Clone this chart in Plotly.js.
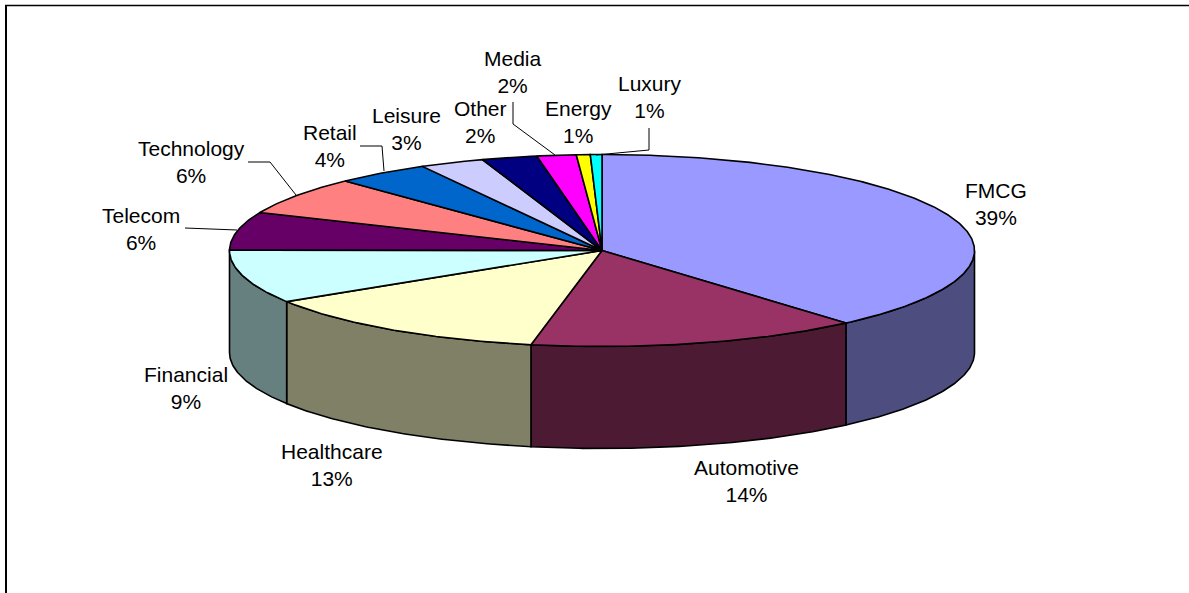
<!DOCTYPE html>
<html>
<head>
<meta charset="utf-8">
<script src="https://cdn.plot.ly/plotly-3.0.1.min.js"></script>
<style>html,body{margin:0;padding:0;background:#fff;overflow:hidden}#chart{width:1189px;height:593px}</style>
</head>
<body>
<div id="chart"></div>
<script>
// Data
const categories = ["FMCG","Automotive","Healthcare","Financial","Telecom","Technology","Retail","Leisure","Other","Media","Energy","Luxury"];
const shares = [38.6,14.4,13,9,6.4,6.4,4.1,2.8,2.4,1.7,0.6,0.5];
const percentLabels = ["39%","14%","13%","9%","6%","6%","4%","3%","2%","2%","1%","1%"];

// Styles
const topColors = ["#9999FF","#993366","#FFFFCC","#CCFFFF","#660066","#FF8080","#0066CC","#CCCCFF","#000080","#FF00FF","#FFFF00","#00FFFF"];
const sideColors = ["#4D4D80","#4D1A33","#808066","#668080"];

// Label layout (pixel frame of the drawing area)
const labelX = [996,746,332,186,141,191,330,406,480,513,578,650];
const labelY = [204,481,465,388,229,162,146,129,122,72,122,97];
const leaderX = [[185,237],[248,270,296],[360,382,384],[513,513,555],[649,649,596]];
const leaderY = [[228,230],[162,162,195],[146,146,171],[102,124,155],[128,150,155]];

// Pie geometry
const cx = 602, cy = 250.5, rx = 372.5, ry = 96, depth = 102;
const total = shares.reduce((a,b)=>a+b,0);

function arc(t0,t1,dy){
  const n = Math.max(2,Math.ceil((t1-t0)/0.5));
  const xs=[],ys=[];
  for(let i=0;i<=n;i++){
    const t=(t0+(t1-t0)*i/n)*Math.PI/180;
    xs.push(cx+rx*Math.sin(t));
    ys.push(cy-ry*Math.cos(t)+dy);
  }
  return [xs,ys];
}

const traces=[];
const edge={color:"#000",width:1.6};
let start=0;
const bounds=shares.map(v=>{const b=[start,start+v/total*360];start=b[1];return b;});

// front wall: only the part of each slice between 90 and 270 degrees shows
bounds.forEach((b,i)=>{
  const a=Math.max(b[0],90), e=Math.min(b[1],270);
  if(e<=a) return;
  const [x1,y1]=arc(a,e,0), [x2,y2]=arc(a,e,depth);
  traces.push({type:"scatter",mode:"lines",x:x1.concat(x2.reverse(),[x1[0]]),y:y1.concat(y2.reverse(),[y1[0]]),
    fill:"toself",fillcolor:sideColors[i],line:edge,hoverinfo:"skip",showlegend:false});
});
// top face
bounds.forEach((b,i)=>{
  const [x,y]=arc(b[0],b[1],0);
  traces.push({type:"scatter",mode:"lines",x:[cx].concat(x,[cx]),y:[cy].concat(y,[cy]),
    fill:"toself",fillcolor:topColors[i],line:edge,name:categories[i],
    hoverinfo:"name",showlegend:false});
});
// leader lines
leaderX.forEach((lx,i)=>{
  traces.push({type:"scatter",mode:"lines",x:lx,y:leaderY[i],line:{color:"#000",width:1},hoverinfo:"skip",showlegend:false});
});

const annotations=categories.map((c,i)=>({
  x:labelX[i],y:labelY[i],xref:"x",yref:"y",text:c+"<br>"+percentLabels[i],showarrow:false,
  xanchor:"center",yanchor:"middle",align:"center",
  font:{family:"Liberation Sans, Arial, sans-serif",size:21,color:"#000"}
}));

const frame=(x0,y0,x1,y1,w)=>({type:"line",xref:"x",yref:"y",x0,y0,x1,y1,line:{color:"#000",width:w}});

Plotly.newPlot("chart",traces,{
  width:1189,height:593,margin:{l:0,r:0,t:0,b:0},
  paper_bgcolor:"#fff",plot_bgcolor:"#fff",showlegend:false,
  xaxis:{range:[0,1189],visible:false,fixedrange:true},
  yaxis:{range:[593,0],visible:false,fixedrange:true},
  annotations,
  shapes:[frame(5,5.5,1189,5.5,1.5),frame(6,5,6,593,2)]
},{displayModeBar:false});
</script>
</body>
</html>
